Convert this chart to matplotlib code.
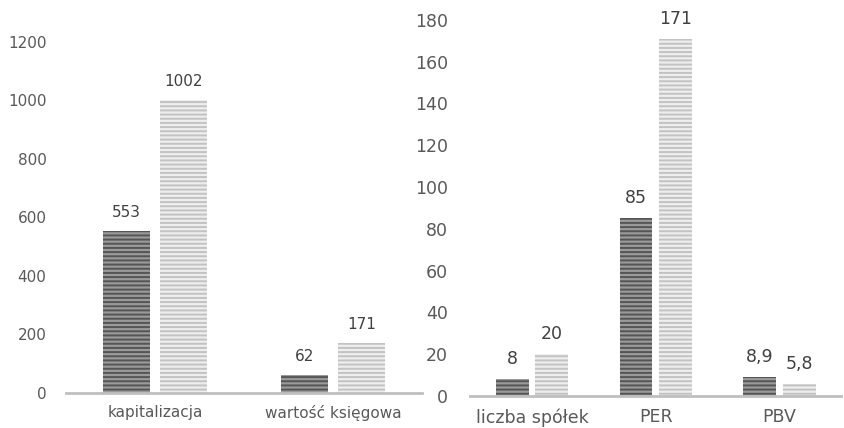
import numpy as np
import matplotlib.pyplot as plt

# Data
left_cats = ['kapitalizacja', 'wartość księgowa']
left_a = [553, 62]
left_b = [1002, 171]
left_lbl_a = ['553', '62']
left_lbl_b = ['1002', '171']

right_cats = ['liczba spółek', 'PER', 'PBV']
right_a = [8, 85, 8.9]
right_b = [20, 171, 5.8]
right_lbl_a = ['8', '85', '8,9']
right_lbl_b = ['20', '171', '5,8']

plt.rcParams['font.family'] = ['DejaVu Sans']
plt.rcParams['hatch.linewidth'] = 1.4
txt = '#595959'

fig = plt.figure(figsize=(8.44, 4.28), dpi=100)
ax1 = fig.add_axes([0.078, 0.082, 0.422, 0.82])
ax2 = fig.add_axes([0.557, 0.075, 0.44, 0.8785])


def draw(ax, cats, a, b, la, lb, ylim, yticks, fs, pad):
    x = np.arange(len(cats))
    w = 0.264
    off = 0.16
    ba = ax.bar(x - off, a, w, color='#9a9a9a', edgecolor='#555555', hatch='----', linewidth=0)
    bb = ax.bar(x + off, b, w, color='#eeeeee', edgecolor='#c2c2c2', hatch='----', linewidth=0)
    ax.bar_label(ba, labels=la, padding=8, fontsize=fs, color='#404040')
    ax.bar_label(bb, labels=lb, padding=8, fontsize=fs, color='#404040')
    ax.set_xlim(-0.5, len(cats) - 0.5)
    ax.set_ylim(*ylim)
    ax.set_yticks(yticks)
    ax.set_xticks(x)
    ax.set_xticklabels(cats)
    for s in ['top', 'right', 'left']:
        ax.spines[s].set_visible(False)
    ax.spines['bottom'].set_color('#bfbfbf')
    ax.spines['bottom'].set_linewidth(2)
    ax.tick_params(axis='both', length=0, labelsize=fs, colors=txt)
    ax.tick_params(axis='y', pad=pad)
    ax.tick_params(axis='x', pad=9)


draw(ax1, left_cats, left_a, left_b, left_lbl_a, left_lbl_b, (0, 1200),
     range(0, 1201, 200), 11, 14)
draw(ax2, right_cats, right_a, right_b, right_lbl_a, right_lbl_b, (0, 180),
     range(0, 181, 20), 12.5, 16)

fig.savefig('out.png', dpi=100)
